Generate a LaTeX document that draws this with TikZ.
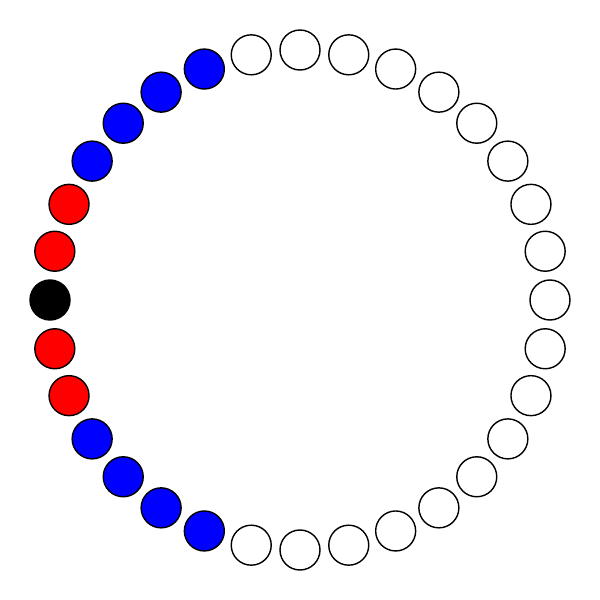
\documentclass[tikz,border=0pt]{standalone}
\begin{document}
\begin{tikzpicture}[x=0.02cm,y=0.02cm,
  dot/.style={circle,draw=black,line width=0.8pt,minimum size=0.8cm,inner sep=0pt}]
\useasboundingbox (0,0) rectangle (600,600);
\foreach \i in {0,...,31}{
  \pgfmathsetmacro{\ang}{180+11.25*\i}
  \pgfmathtruncatemacro{\d}{min(\i,32-\i)}
  \ifnum\d=0 \def\col{black}\else
  \ifnum\d<3 \def\col{red}\else
  \ifnum\d<7 \def\col{blue}\else
  \def\col{white}\fi\fi\fi
  \node[dot,fill=\col] (c\i) at ({300+250*cos(\ang)},{300+250*sin(\ang)}) {};
}
\end{tikzpicture}
\end{document}
